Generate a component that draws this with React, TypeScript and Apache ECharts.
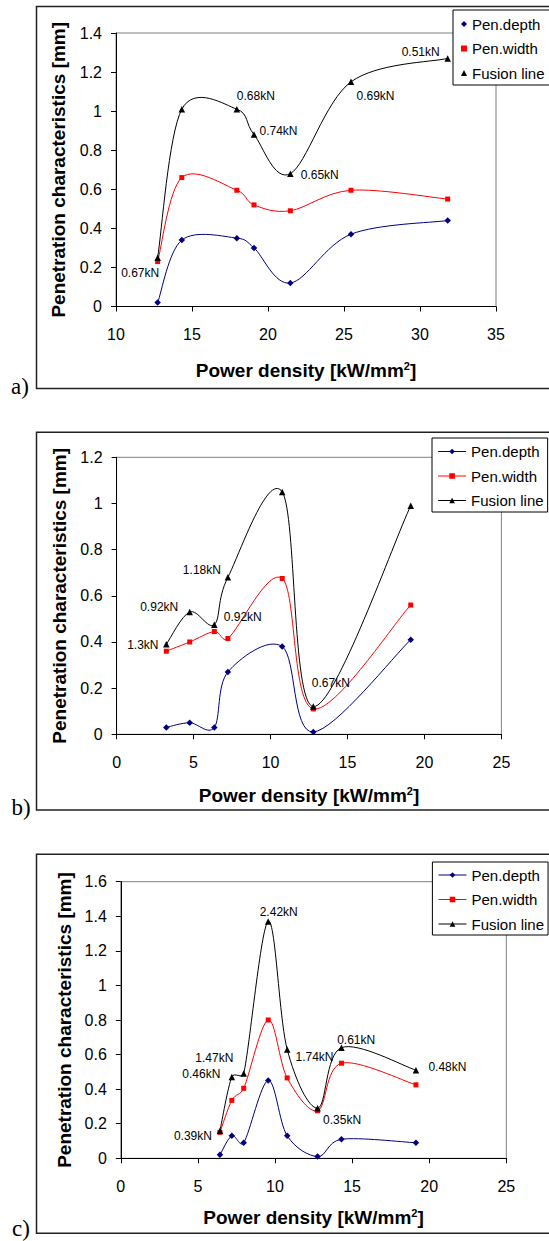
import React, { useEffect, useRef } from 'react';
import * as echarts from 'echarts';

const NAMES = ['Pen.depth', 'Pen.width', 'Fusion line'];
const X_TITLE = 'Power density [kW/mm{s|2}]';
const Y_TITLE = 'Penetration characteristics [mm]';
const PANEL_LETTERS = ['a)', 'b)', 'c)'];

// ---- panel a
const xA = [12.74, 14.33, 17.95, 19.08, 21.47, 25.46, 31.82];
const depthA = [0.02, 0.34, 0.35, 0.30, 0.12, 0.37, 0.44];
const widthA = [0.23, 0.66, 0.595, 0.52, 0.49, 0.595, 0.55];
const fusionA = [0.25, 1.01, 1.01, 0.88, 0.68, 1.15, 1.27];
const loadA = ['0.67kN', '', '0.68kN', '0.74kN', '0.65kN', '0.69kN', '0.51kN'];
const xAxisA = [10, 35, 5];
const yAxisA = [0, 1.4, 0.2];

// ---- panel b
const xB = [3.23, 4.75, 6.35, 7.23, 10.76, 12.78, 19.11];
const depthB = [0.03, 0.05, 0.03, 0.27, 0.38, 0.01, 0.41];
const widthB = [0.36, 0.40, 0.445, 0.415, 0.675, 0.11, 0.56];
const fusionB = [0.39, 0.53, 0.475, 0.68, 1.05, 0.12, 0.99];
const loadB = ['1.3kN', '0.92kN', '0.92kN', '1.18kN', '', '0.67kN', ''];
const xAxisB = [0, 25, 5];
const yAxisB = [0, 1.2, 0.2];

// ---- panel c
const xC = [6.43, 7.20, 7.97, 9.56, 10.79, 12.76, 14.31, 19.14];
const depthC = [0.02, 0.13, 0.09, 0.45, 0.13, 0.01, 0.11, 0.09];
const widthC = [0.15, 0.335, 0.405, 0.80, 0.465, 0.275, 0.55, 0.425];
const fusionC = [0.16, 0.47, 0.49, 1.37, 0.63, 0.29, 0.64, 0.51];
const loadC = ['0.39kN', '0.46kN', '1.47kN', '2.42kN', '1.74kN', '0.35kN', '0.61kN', '0.48kN'];
const xAxisC = [0, 25, 5];
const yAxisC = [0, 1.6, 0.2];

// ---- layout (styling only)
const FONT = '"Liberation Sans", Arial, sans-serif';
const SERIF = '"Liberation Serif", "Times New Roman", serif';
const labelOffsetsA = [[-17.5, 15], [0, 0], [19, -13], [24.5, -4], [29.4, 1], [24.5, 14], [-27, -6]];
const labelOffsetsB = [[-23.5, 1], [-30.5, -5], [28.4, -8], [-26, -7], [0, 0], [17.5, -24], [0, 0]];
const labelOffsetsC = [[-27, 5], [-30.5, -3], [-29.4, -16], [10.5, -9], [27.3, 8], [24.5, 12], [14.7, -8], [31.5, -3]];

const panels = [
  {
    xs: xA, depth: depthA, width: widthA, fusion: fusionA, loads: loadA, offs: labelOffsetsA,
    xr: xAxisA, yr: yAxisA,
    grid: { left: 116, top: 33, width: 380, height: 273.5 },
    yGap: 48.5, xGap: 54,
    frame: { x: 36.5, y: 6.5, h: 382 },
    letter: { x: 20, y: 386 },
  },
  {
    xs: xB, depth: depthB, width: widthB, fusion: fusionB, loads: loadB, offs: labelOffsetsB,
    xr: xAxisB, yr: yAxisB,
    grid: { left: 116.6, top: 457.3, width: 384.8, height: 277 },
    yGap: 47.5, xGap: 51.2,
    frame: { x: 36.5, y: 432.3, h: 377.7 },
    letter: { x: 21, y: 807 },
  },
  {
    xs: xC, depth: depthC, width: widthC, fusion: fusionC, loads: loadC, offs: labelOffsetsC,
    xr: xAxisC, yr: yAxisC,
    grid: { left: 120.8, top: 881.7, width: 385.5, height: 276.6 },
    yGap: 46.5, xGap: 49.2,
    frame: { x: 36.5, y: 854.3, h: 379 },
    letter: { x: 21, y: 1228 },
  },
];

const STYLES = [
  { color: '#000080', symbol: 'diamond', size: 6.5 },
  { color: '#ff0000', symbol: 'rect', size: 5 },
  { color: '#000000', symbol: 'triangle', size: 6.5 },
];

// Smoothed curve (spreadsheet-style Bezier smoothing: Catmull-Rom arms of 1/6,
// each arm limited to half of its segment), positioned with api.coord.
function curveSeries(gi: number, xs: number[], vals: number[], color: string, z: number) {
  const n = xs.length;
  return {
    type: 'custom',
    xAxisIndex: gi,
    yAxisIndex: gi,
    z,
    silent: true,
    data: xs.map((x, i) => [x, vals[i]]),
    encode: { x: 0, y: 1 },
    renderItem: (params: any, api: any) => {
      const i = params.dataIndex;
      if (i >= n - 1) return { type: 'group', children: [] };
      const P = (k: number) => {
        const kk = Math.max(0, Math.min(n - 1, k));
        return api.coord([xs[kk], vals[kk]]);
      };
      const p0 = P(i - 1), p1 = P(i), p2 = P(i + 1), p3 = P(i + 2);
      const d12 = Math.hypot(p2[0] - p1[0], p2[1] - p1[1]);
      const arm = (a: number[], b: number[]) => {
        const vx = (b[0] - a[0]) / 6;
        const vy = (b[1] - a[1]) / 6;
        const len = Math.hypot(vx, vy);
        const lim = d12 / 2;
        const k = len > lim && len > 0 ? lim / len : 1;
        return [vx * k, vy * k];
      };
      const a1 = arm(p0, p2);
      const a2 = arm(p1, p3);
      return {
        type: 'bezierCurve',
        shape: {
          x1: p1[0], y1: p1[1], x2: p2[0], y2: p2[1],
          cpx1: p1[0] + a1[0],
          cpy1: p1[1] + a1[1],
          cpx2: p2[0] - a2[0],
          cpy2: p2[1] - a2[1],
        },
        style: { stroke: color, fill: 'none', lineWidth: 1 },
      };
    },
  };
}

function buildOption() {
  const grid: any[] = [];
  const xAxis: any[] = [];
  const yAxis: any[] = [];
  const series: any[] = [];
  const graphic: any[] = [];

  panels.forEach((p, gi) => {
    grid.push({ ...p.grid, show: true, borderColor: '#808080', borderWidth: 1, backgroundColor: 'transparent' });
    xAxis.push({
      type: 'value', gridIndex: gi, min: p.xr[0], max: p.xr[1], interval: p.xr[2],
      axisLine: { show: true, onZero: false, lineStyle: { color: '#000', width: 1 } },
      axisTick: { show: true, length: 5, lineStyle: { color: '#000' } },
      axisLabel: { fontSize: 16, color: '#000', margin: 20, fontFamily: FONT },
      splitLine: { show: false },
      name: X_TITLE, nameLocation: 'middle', nameGap: p.xGap,
      nameTextStyle: {
        fontSize: 19, fontWeight: 'bold', color: '#000', fontFamily: FONT,
        rich: { s: { fontSize: 11, fontWeight: 'bold', color: '#000', fontFamily: FONT, verticalAlign: 'top', padding: [0, 0, 6, 0] } },
      },
    });
    yAxis.push({
      type: 'value', gridIndex: gi, min: p.yr[0], max: p.yr[1], interval: p.yr[2],
      axisLine: { show: true, onZero: false, lineStyle: { color: '#000', width: 1 } },
      axisTick: { show: true, length: 5, lineStyle: { color: '#000' } },
      axisLabel: { fontSize: 16, color: '#000', margin: 14, fontFamily: FONT },
      splitLine: { show: false },
      name: Y_TITLE, nameLocation: 'middle', nameGap: p.yGap,
      nameTextStyle: { fontSize: 19, fontWeight: 'bold', color: '#000', fontFamily: FONT },
    });

    const ys = [p.depth, p.width, p.fusion];
    ys.forEach((vals, si) => {
      const st = STYLES[si];
      series.push(curveSeries(gi, p.xs, vals, st.color, 2 + si));
    });
    ys.forEach((vals, si) => {
      const st = STYLES[si];
      const isFusion = si === 2;
      series.push({
        type: 'line', name: NAMES[si], xAxisIndex: gi, yAxisIndex: gi,
        symbol: st.symbol, symbolSize: st.size,
        lineStyle: { color: st.color, width: 1, opacity: 0 },
        itemStyle: { color: st.color },
        z: 6 + si,
        data: p.xs.map((x, i) => {
          const item: any = { value: [x, vals[i]] };
          if (isFusion && p.loads[i]) {
            item.label = {
              show: true, position: 'inside', formatter: p.loads[i], offset: p.offs[i],
              fontSize: 12, color: '#000', fontFamily: FONT,
            };
          }
          return item;
        }),
      });
    });

    graphic.push({
      type: 'rect', silent: true, z: 0,
      shape: { x: p.frame.x, y: p.frame.y, width: 600, height: p.frame.h },
      style: { fill: 'none', stroke: '#222', lineWidth: 1.5 },
    });
    graphic.push({
      type: 'text', silent: true,
      x: p.letter.x, y: p.letter.y,
      style: { text: PANEL_LETTERS[gi], fontSize: 23, fontFamily: SERIF, fill: '#000', align: 'center', verticalAlign: 'middle' },
    });
  });

  const legendText = { fontSize: 15, lineHeight: 15, color: '#000', fontFamily: FONT };
  const legendCommon = {
    orient: 'vertical', itemGap: 9.5, borderColor: '#000', borderWidth: 1,
    backgroundColor: '#fff', textStyle: legendText, selectedMode: false, z: 10,
    lineStyle: { opacity: 1, width: 1 },
  };
  const legend = [
    {
      ...legendCommon, left: 453, top: 10,
      data: [
        { name: NAMES[0], icon: 'diamond' },
        { name: NAMES[1], icon: 'rect' },
        { name: NAMES[2], icon: 'triangle' },
      ],
      itemWidth: 6, itemHeight: 6, padding: [6.5, 40, 4.5, 8],
    },
    { ...legendCommon, left: 432, top: 438, data: NAMES, itemWidth: 28, itemHeight: 7, padding: [6, 4, 4, 5.6] },
    { ...legendCommon, left: 432.4, top: 862, data: NAMES, itemWidth: 28, itemHeight: 7, padding: [5.5, 4, 3.5, 5.6] },
  ];

  return {
    animation: false,
    backgroundColor: '#fff',
    grid, xAxis, yAxis, series, legend, graphic,
  };
}

export default function App() {
  const ref = useRef<HTMLDivElement>(null);
  useEffect(() => {
    if (!ref.current) return;
    const chart = echarts.init(ref.current, undefined, { renderer: 'svg' });
    chart.setOption(buildOption() as any);
    return () => chart.dispose();
  }, []);
  return (
    <div
      ref={ref}
      style={{ position: 'absolute', left: 0, top: 0, width: 549, height: 1241, background: '#fff' }}
    />
  );
}
